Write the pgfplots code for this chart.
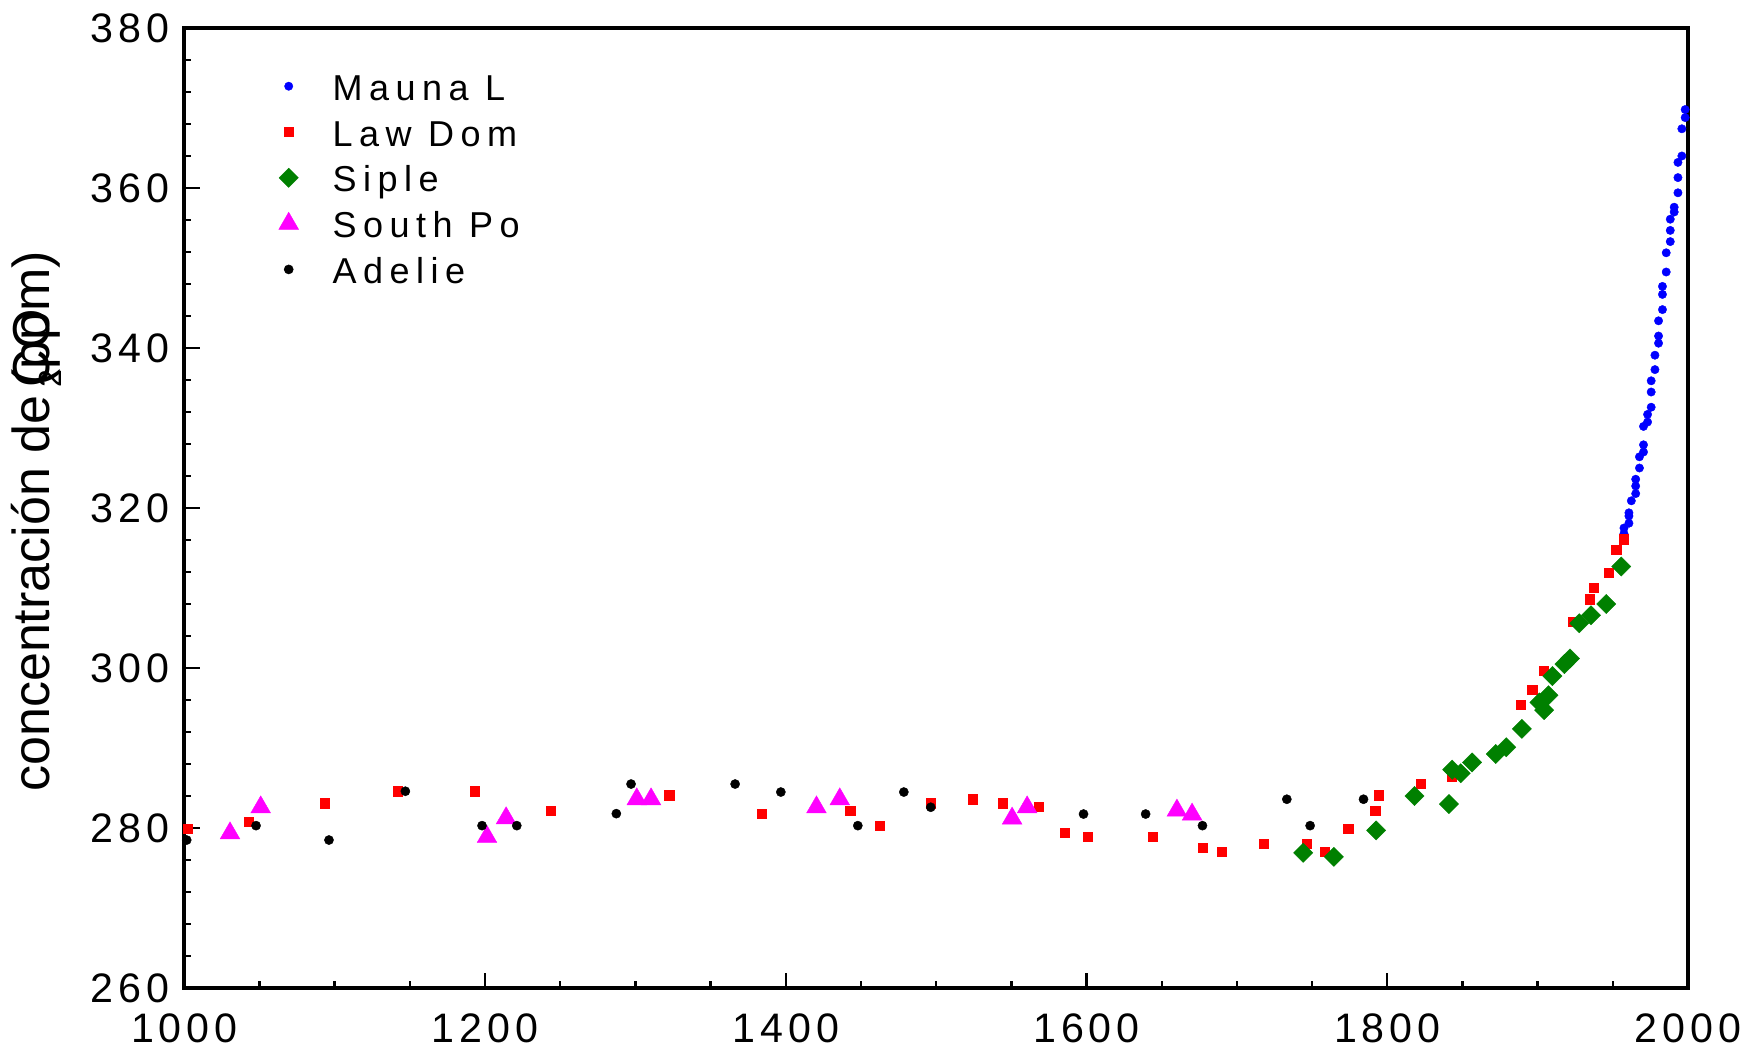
\documentclass[border=0pt]{standalone}
\usepackage{fontspec}
\setmainfont{Liberation Sans}
\newfontfamily\tickfont[LetterSpace=12]{Liberation Sans}
\newfontfamily\legfont[LetterSpace=18]{Liberation Sans}
\usepackage{pgfplots}
\pgfplotsset{compat=1.18}

\definecolor{mlblue}{RGB}{0,0,255}
\definecolor{ldred}{RGB}{255,0,0}
\definecolor{spgreen}{RGB}{0,128,0}
\definecolor{spmag}{RGB}{255,0,255}

\begin{document}
\begin{tikzpicture}
\begin{axis}[
  scale only axis, width=375.9pt, height=240pt,
  xmin=1000, xmax=2000, ymin=260, ymax=380,
  xtick={1000,1200,...,2000}, ytick={260,280,...,380},
  minor x tick num=3, minor y tick num=4,
  axis line style={line width=1pt},
  every tick/.style={black, line width=0.6pt},
  major tick length=3.8pt, minor tick length=1.7pt,
  tick align=inside, xtick pos=bottom, ytick pos=left,
  tick label style={font=\tickfont\fontsize{10.3}{12}\selectfont},
  /pgf/number format/assume math mode=true,
  /pgf/number format/1000 sep={},
  xticklabel style={inner sep=0pt, anchor=north, yshift=-6.25pt},
  yticklabel style={inner sep=0pt, anchor=east, xshift=-3.6pt},
  ylabel={concentración de\,\rlap{\raisebox{-0.45ex}{\footnotesize 2}}\rlap{CO}(ppm)},
  every axis y label/.style={at={(axis description cs:-0.0899,0.486)}, rotate=90, anchor=base, font=\fontsize{13}{15}\selectfont},
  only marks,
  legend image code/.code={\path (-6pt,0pt) (6pt,0pt); \draw[#1] plot coordinates {(0pt,0pt)};},
  legend style={draw=none, fill=none, at={(0.0524,0.9631)}, anchor=north west,
    inner sep=0pt, row sep=0.45pt, column sep=4.8pt,
    font=\legfont\fontsize{9}{11}\selectfont,
    nodes={inner sep=0pt, text height=9pt, text depth=2pt}},
  legend cell align=left,
  clip=false,
]
% Mauna Loa
\addplot[color=mlblue, mark=*, mark size=1.05pt, mark options={line width=0.1pt}] table {
x y
1957.4 316.8
1957.4 317.5
1960.7 318.1
1960.7 319.0
1960.7 319.4
1962.3 320.9
1965.2 321.8
1965.2 322.75
1965.2 323.6
1967.7 325.0
1967.7 326.4
1970.4 327.0
1970.4 327.9
1970.4 330.2
1973.1 330.75
1973.1 331.7
1975.5 332.6
1975.5 334.5
1975.5 335.9
1978.0 337.3
1978.0 339.1
1980.4 340.6
1980.4 341.5
1980.4 343.4
1983.0 344.8
1983.0 346.7
1983.0 347.7
1985.5 349.5
1985.5 351.9
1988.2 353.3
1988.2 354.7
1988.2 356.1
1990.8 357.0
1990.8 357.6
1993.3 359.4
1993.3 361.3
1993.3 363.2
1995.9 364.0
1995.9 367.4
1998.1 368.8
1998.1 369.8
};
\addlegendentry{Mauna L}
% Law Dome
\addplot[color=ldred, mark=square*, mark size=1.15pt, mark options={line width=0.1pt, rounded corners=0.4pt}] table {
x y
1002.0 279.9
1042.6 280.8
1093.6 283.1
1141.9 284.6
1192.9 284.6
1243.9 282.2
1322.5 284.1
1384.2 281.75
1442.8 282.2
1462.7 280.3
1496.4 283.1
1524.1 283.6
1544.5 283.1
1568.0 282.7
1585.3 279.4
1600.9 278.9
1644.1 278.9
1677.1 277.5
1690.0 277.0
1718.0 278.0
1746.3 278.0
1758.5 277.0
1774.0 279.9
1792.0 282.2
1794.4 284.1
1822.4 285.5
1843.0 286.4
1888.6 295.4
1896.4 297.3
1903.9 299.7
1923.4 305.8
1934.7 308.6
1937.4 310.0
1947.4 311.9
1952.3 314.75
1957.4 316.1
};
\addlegendentry{Law Dom}
% Siple
\addplot[color=spgreen, mark=square*, mark size=1.7pt, mark options={line width=0.1pt, rotate=45, rounded corners=0.3pt}] table {
x y
1744.1 276.9
1764.5 276.4
1792.6 279.7
1818.1 284.0
1841.0 283.0
1843.2 287.3
1848.9 286.85
1856.4 288.2
1872.1 289.25
1879.1 290.1
1889.5 292.4
1901.2 295.7
1904.3 294.75
1907.2 296.6
1909.8 299.0
1917.8 300.5
1921.5 301.2
1927.7 305.6
1935.5 306.6
1945.6 308.0
1955.6 312.7
};
\addlegendentry{Siple}
% South Pole
\addplot[color=spmag, mark=triangle*, mark size=2.85pt, mark options={line width=0.1pt}] table {
x y
1030.4 279.35
1050.8 282.6
1201.3 278.9
1214.0 281.24
1300.9 283.6
1310.4 283.6
1420.4 282.6
1435.9 283.6
1550.5 281.2
1560.5 282.6
1660.1 282.2
1670.2 281.7
};
\addlegendentry{South Po}
% Adelie
\addplot[color=black, mark=*, mark size=1.15pt, mark options={line width=0.1pt}] table {
x y
1001.6 278.5
1047.7 280.3
1096.2 278.5
1147.0 284.6
1198.0 280.3
1221.1 280.3
1287.3 281.8
1297.1 285.5
1366.3 285.5
1396.7 284.5
1447.9 280.3
1478.5 284.5
1496.4 282.6
1598.0 281.75
1639.3 281.75
1677.1 280.3
1733.2 283.6
1748.7 280.3
1784.2 283.6
};
\addlegendentry{Adelie}
\coordinate (bl) at (rel axis cs:0,0);
\coordinate (tr) at (rel axis cs:1,1);
\end{axis}
\pgfresetboundingbox
\path[use as bounding box] ([shift={(-46.075pt,-17.75pt)}]bl) rectangle ([shift={(17.5pt,7pt)}]tr);
\end{tikzpicture}
\end{document}
